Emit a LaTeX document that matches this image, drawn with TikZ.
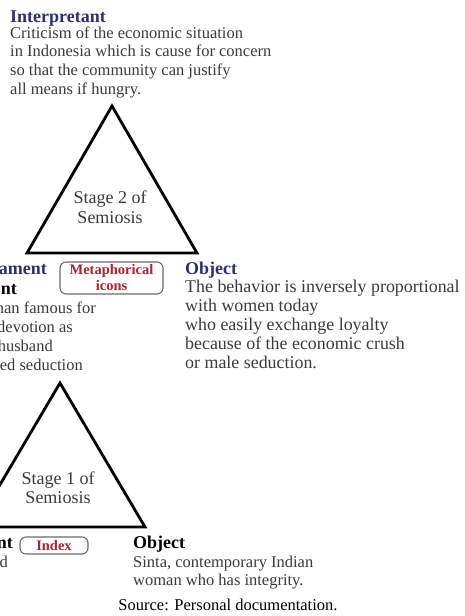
\documentclass[tikz,border=0pt]{standalone}
\usepackage{fontspec}
\setmainfont{Liberation Serif}
\definecolor{ttlblue}{HTML}{2D2D7A}
\definecolor{bodygray}{HTML}{3A3A3A}
\definecolor{lblred}{HTML}{B3202E}
\definecolor{boxgray}{HTML}{6A6A6A}
\tikzset{
  ttl/.style={inner sep=0pt, font=\fontsize{18}{20}\selectfont\bfseries},
  body/.style={inner sep=0pt, text=bodygray, align=left, font=\fontsize{16.5}{18.8}\selectfont},
  bodybig/.style={inner sep=0pt, text=bodygray, align=left, font=\fontsize{17.9}{19}\selectfont},
  stagetxt/.style={inner sep=0pt, text=bodygray, align=center, font=\fontsize{18}{20}\selectfont},
  tri/.style={line width=2.8pt, line join=miter},
  lblbox/.style={draw=boxgray, line width=1.1pt, rounded corners=6pt, inner sep=0pt,
     text=lblred, align=center, font=\fontsize{14.5}{16}\selectfont\bfseries}
}
\begin{document}
\begin{tikzpicture}[x=1pt,y=-1pt]
\path[use as bounding box, clip] (0,0) rectangle (465,616);

% Interpretant (multi-line nodes: base = last line's baseline)
\node[ttl, text=ttlblue, anchor=base west] (interp) at (10,22) {Interpretant};
\node[body, anchor=base west] (interpbody) at (10,94.5) {Criticism of the economic situation\\in Indonesia which is cause for concern\\so that the community can justify\\all means if hungry.};

% Triangle stage 2
\coordinate (t2a) at (112,106);
\coordinate (t2l) at (27,253);
\coordinate (t2r) at (197,253);
\draw[tri] (t2a) -- (t2l) -- (t2r) -- cycle;
\node[stagetxt, anchor=base] (stage2) at (110,223) {Stage 2 of\\Semiosis};

% Middle left (clipped)
\node[ttl, text=ttlblue, anchor=base east] (repr2) at (47,274) {ament};
\node[ttl, anchor=base east] (sign2) at (17,294) {nt};
\node[body, anchor=base east] (l2a) at (96,313) {han famous for};
\node[body, anchor=base east] (l2b) at (73,332) {devotion as};
\node[body, anchor=base east] (l2c) at (53,351) {husband};
\node[body, anchor=base east] (l2d) at (83,370) {ed seduction};

\node[lblbox, minimum width=103pt, minimum height=32pt] (meta) at (111.5,278) {Metaphorical\\icons};

% Middle object
\node[ttl, text=ttlblue, anchor=base west] (obj2) at (185,274) {Object};
\node[bodybig, anchor=base west] (obj2body) at (185,368) {The behavior is inversely proportional\\with women today\\who easily exchange loyalty\\because of the economic crush\\or male seduction.};

% Triangle stage 1
\coordinate (t1a) at (60,383);
\coordinate (t1l) at (-25,527);
\coordinate (t1r) at (145,527);
\draw[tri] (t1a) -- (t1l) -- (t1r) -- cycle;
\node[stagetxt, anchor=base, font=\fontsize{18}{19}\selectfont] (stage1) at (58,503) {Stage 1 of\\Semiosis};

% Bottom left (clipped)
\node[ttl, anchor=base east] (sign1) at (13,548) {nt};
\node[body, anchor=base east] (l1a) at (8,567) {d};
\node[lblbox, minimum width=68pt, minimum height=17pt] (index) at (54,545.5) {Index};

% Bottom object
\node[ttl, anchor=base west] (obj1) at (133,548) {Object};
\node[body, anchor=base west, font=\fontsize{16.5}{18.5}\selectfont] (obj1body) at (133,585.5) {Sinta, contemporary Indian\\woman who has integrity.};

% Source
\node[inner sep=0pt, anchor=base, font=\fontsize{16.5}{19}\selectfont] (src) at (228,610) {Source: Personal documentation.};
\end{tikzpicture}
\end{document}
